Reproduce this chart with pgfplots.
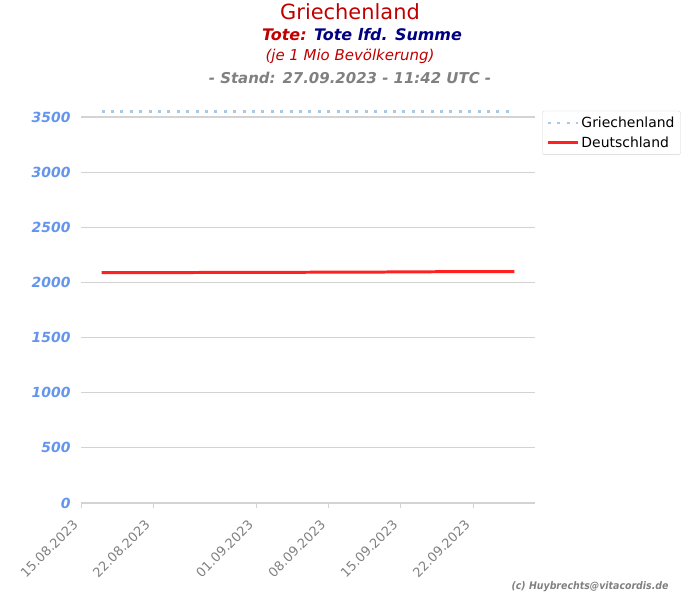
\documentclass[border=0pt]{standalone}
\usepackage{pgfplots}
\pgfplotsset{compat=1.18}
\usepackage{fontspec}
\setmainfont{DejaVu Sans}
\newfontfamily\condfont{DejaVu Sans Condensed}
\definecolor{titred}{HTML}{C00000}
\definecolor{navy}{HTML}{000080}
\definecolor{ytick}{HTML}{6495ED}
\definecolor{gridgray}{HTML}{D3D3D3}
\definecolor{grblue}{HTML}{A8C8E8}
\definecolor{deured}{HTML}{FF2020}
\begin{document}
\begin{tikzpicture}
\useasboundingbox (0bp,0bp) rectangle (700bp,-600bp);
\node[text=titred,font=\fontsize{21}{24}\selectfont] at (350bp,-12bp) {Griechenland};
\node[font=\fontsize{16}{19}\selectfont\bfseries\itshape] at (362bp,-35bp) {\textcolor{titred}{Tote:} \textcolor{navy}{Tote lfd. Summe}};
\node[text=titred,font=\fontsize{15}{18}\selectfont\itshape] at (350bp,-56bp) {(je 1 Mio Bevölkerung)};
\node[text=gray,font=\fontsize{15}{18}\selectfont\bfseries\itshape] at (350bp,-78bp) {- Stand: 27.09.2023 - 11:42 UTC -};
\node[text=gray,anchor=east,font=\condfont\fontsize{10.5}{12}\selectfont\bfseries\itshape] at (672bp,-587bp) {(c) Huybrechts@vitacordis.de};
\begin{axis}[
  at={(81bp,-503bp)}, anchor=south west,
  scale only axis, width=454bp, height=397bp,
  xmin=0, xmax=44, ymin=0, ymax=3600,
  axis line style={draw=none},
  axis x line*=bottom,
  x axis line style={draw=gridgray, line width=1pt},
  ytick={0,500,...,3500},
  ymajorgrids, grid style={gridgray, line width=1.2pt},
  y tick style={draw=none},
  yticklabel style={text=ytick, font=\fontsize{14}{16}\selectfont\bfseries\itshape, xshift=-2bp},
  /pgf/number format/assume math mode=true,
  /pgf/number format/1000 sep={},
  xtick={0,7,17,24,31,38},
  xticklabels={15.08.2023,22.08.2023,01.09.2023,08.09.2023,15.09.2023,22.09.2023},
  x tick style={draw=gridgray, line width=1pt},
  tick align=outside, major tick length=5bp,
  xticklabel style={text=gray, font=\fontsize{13}{15}\selectfont, rotate=45, anchor=north east, inner xsep=14bp, inner ysep=1bp},
  legend style={at={(1.016,0.988)}, anchor=north west, draw=gridgray, rounded corners=2bp,
    font=\fontsize{14}{17}\selectfont, row sep=3.5bp, inner sep=4bp,
    /tikz/every even column/.append style={column sep=3bp}},
  legend image code/.code={\draw[#1, line width=3pt] (0bp,0bp) -- (30bp,0bp);},
  legend cell align=left,
]
\addplot[grblue, line width=3pt, dash pattern=on 3bp off 6.4bp] coordinates {
(2,3554) (10,3554) (20,3554) (30,3554) (42,3554)};
\addlegendentry{Griechenland}
\addplot[deured, line width=3pt] coordinates {
(2,2090) (10,2090) (20,2092) (28,2094) (34,2097) (42,2099)};
\addlegendentry{Deutschland}
\end{axis}
\end{tikzpicture}
\end{document}
